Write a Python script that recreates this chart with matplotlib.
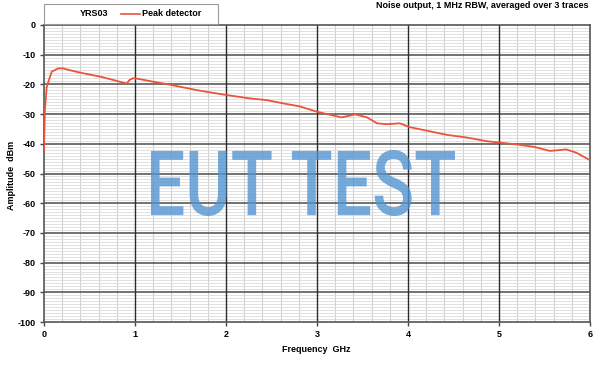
import numpy as np
import matplotlib
matplotlib.use("Agg")
import matplotlib.pyplot as plt
from matplotlib.textpath import TextPath
from matplotlib.patches import PathPatch, Rectangle
from matplotlib.font_manager import FontProperties
from matplotlib.lines import Line2D
from matplotlib.transforms import Affine2D

# Peak detector trace (GHz, dBm)
freq_ghz = [0.0, 0.005, 0.01, 0.03, 0.085, 0.157, 0.21, 0.32, 0.47, 0.62, 0.76,
            0.87, 0.91, 0.94, 0.98, 1.05, 1.2, 1.35, 1.53, 1.71, 2.01, 2.26,
            2.45, 2.63, 2.81, 3.0, 3.11, 3.27, 3.42, 3.55, 3.66, 3.77, 3.91,
            4.02, 4.21, 4.43, 4.65, 4.86, 5.01, 5.19, 5.38, 5.56, 5.74, 5.85,
            5.98, 6.0]
level_dbm = [-42, -35, -28.6, -20.8, -15.7, -14.6, -14.6, -15.5, -16.5, -17.4,
             -18.5, -19.4, -19.7, -18.5, -17.9, -18.2, -19.1, -19.9, -21.0,
             -22.1, -23.6, -24.7, -25.3, -26.4, -27.4, -29.2, -30.0, -31.1,
             -30.1, -31.1, -33.1, -33.4, -33.1, -34.4, -35.6, -37.0, -37.9,
             -39.1, -39.6, -40.2, -41.0, -42.4, -41.9, -43.0, -45.2, -45.5]

series_name = "YRS03"
trace_label = "Peak detector"
title = "Noise output, 1 MHz RBW, averaged over 3 traces"
watermark = "EUT TEST"

red = "#e8553a"
bold = dict(fontsize=6.5, fontweight="bold", family=["Liberation Sans", "DejaVu Sans"])

fig = plt.figure(figsize=(6.0, 3.66), dpi=100)
W, H = 600.0, 366.0
ax = fig.add_axes([44 / W, 1 - 322 / H, 546 / W, 297 / H])

ax.set_xlim(0, 6)
ax.set_ylim(-100, 0)
ax.set_xticks(np.arange(0, 7, 1))
ax.set_yticks(np.arange(-100, 1, 10))
ax.set_xticks(np.arange(0, 6.01, 0.2), minor=True)
ax.set_yticks(np.arange(-100, 0.1, 1), minor=True)
ax.grid(which="minor", axis="x", color="#cfcfcf", lw=0.8)
ax.grid(which="minor", axis="y", color="#dcdcdc", lw=0.6)
ax.set_axisbelow(True)
# major grid drawn on top of the fine grid
for v in range(1, 6):
    ax.axvline(v, color="#2b2b2b", lw=1.0, zorder=1.5)
for v in range(-90, 0, 10):
    ax.axhline(v, color="#5a5a5a", lw=1.2, zorder=1.4)
for s in ax.spines.values():
    s.set_color("#555555")
    s.set_linewidth(1.2)
ax.tick_params(which="minor", length=0)
ax.tick_params(which="major", length=3, width=1, color="#444444", pad=3)
ax.set_xticklabels([str(v) for v in range(7)], **bold)
ax.set_yticklabels([str(v) for v in range(-100, 1, 10)], **bold)

ax.plot(freq_ghz, level_dbm, color=red, lw=1.3, zorder=3)

fig.text(316 / W, 1 - 349 / H, "Frequency  GHz", ha="center", va="center", **bold)
fig.text(12 / W, 1 - 175 / H, "Amplitude  dBm", ha="center", va="center",
         rotation=90, **bold)
fig.text(588 / W, 1 - 6 / H, title, ha="right", va="center", **bold)

# legend box above the plot
fig.add_artist(Rectangle((44 / W, 1 - 24 / H), 174 / W, 20 / H,
                         transform=fig.transFigure, facecolor="white",
                         edgecolor="#999999", lw=0.8))
fig.text(94 / W, 1 - 14 / H, series_name, ha="center", va="center", **bold)
fig.add_artist(Line2D([121 / W, 140 / W], [1 - 14 / H, 1 - 14 / H],
                      transform=fig.transFigure, color=red, lw=1.2))
fig.text(142 / W, 1 - 14 / H, trace_label, ha="left", va="center", **bold)

# watermark, squeezed into its box
tp = TextPath((0, 0), watermark, size=1,
              prop=FontProperties(family="Roboto", weight="medium"))
ext = tp.get_extents()
box_x0, box_x1, box_top, box_bot = 151, 455, 150, 216
sx = (box_x1 - box_x0) / W / ext.width
sy = (box_bot - box_top) / H / ext.height
tr = (Affine2D().translate(-ext.x0, -ext.y0).scale(sx, sy)
      .translate(box_x0 / W, 1 - box_bot / H)) + fig.transFigure
fig.add_artist(PathPatch(tp, transform=tr, facecolor="#4f93d2", alpha=0.78,
                         edgecolor="none", zorder=5))

fig.savefig("out.png", dpi=100)
